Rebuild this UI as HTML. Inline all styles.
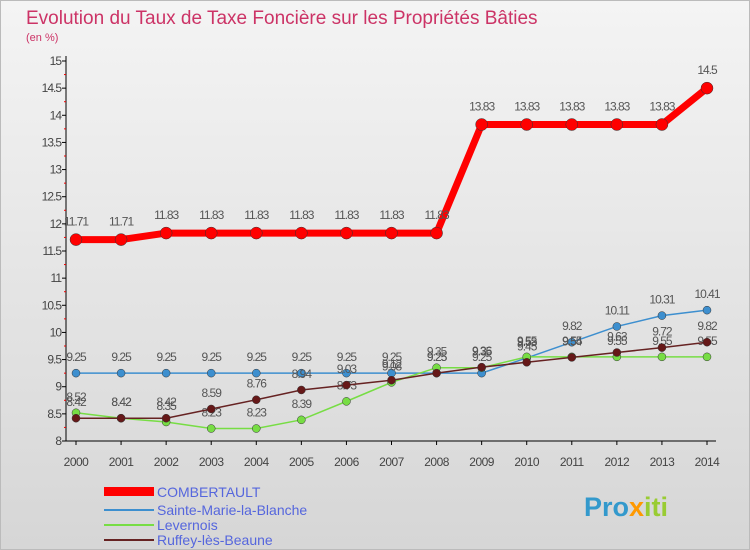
<!DOCTYPE html>
<html><head><meta charset="utf-8"><style>
body{margin:0;}
#c{width:750px;height:550px;position:relative;background:linear-gradient(#f4f4f4,#d6d6d6);font-family:"Liberation Sans",sans-serif;overflow:hidden;border:1px solid #bbb;box-sizing:border-box}
text{font-family:"Liberation Sans",sans-serif}
</style></head><body>
<div id="c">
<svg id="s" width="750" height="550">
<text x="25" y="23" font-size="19" fill="#cc3366">Evolution du Taux de Taxe Foncière sur les Propriétés Bâties</text>
<text x="25" y="40" font-size="11" fill="#cc3366">(en %)</text>
<g id="axes"></g><g id="series"></g>
<g>
<rect x="103" y="486" width="50" height="9" fill="#ff0000"/>
<text x="156" y="496" font-size="14" fill="#5566dd">COMBERTAULT</text>
<rect x="103" y="508" width="50" height="2" fill="#3d8fcf"/>
<text x="156" y="514" font-size="14" fill="#5566dd">Sainte-Marie-la-Blanche</text>
<rect x="103" y="523" width="50" height="2" fill="#77dd44"/>
<text x="156" y="529" font-size="14" fill="#5566dd">Levernois</text>
<rect x="103" y="538" width="50" height="2" fill="#662222"/>
<text x="156" y="544" font-size="14" fill="#5566dd">Ruffey-lès-Beaune</text>
</g>
<text x="583" y="515" font-size="27" font-weight="bold" fill="#3399cc">Pro<tspan fill="#ff9900">x</tspan><tspan fill="#99cc33">iti</tspan></text>
</svg></div>
<script>
const years=[2000,2001,2002,2003,2004,2005,2006,2007,2008,2009,2010,2011,2012,2013,2014];
const yTicks=[8,8.5,9,9.5,10,10.5,11,11.5,12,12.5,13,13.5,14,14.5,15];
const combertault=[11.71,11.71,11.83,11.83,11.83,11.83,11.83,11.83,11.83,13.83,13.83,13.83,13.83,13.83,14.5];
const sainteMarie=[9.25,9.25,9.25,9.25,9.25,9.25,9.25,9.25,9.25,9.25,9.53,9.82,10.11,10.31,10.41];
const levernois=[8.52,8.42,8.35,8.23,8.23,8.39,8.73,9.08,9.35,9.35,9.55,9.55,9.55,9.55,9.55];
const ruffey=[8.42,8.42,8.42,8.59,8.76,8.94,9.03,9.12,9.25,9.36,9.45,9.54,9.63,9.72,9.82];
const NS="http://www.w3.org/2000/svg";
const x=i=>75+i*(706-75)/(years.length-1);
const y=v=>440-(v-8)*(380/7);
function el(t,a,p){const e=document.createElementNS(NS,t);for(const k in a)e.setAttribute(k,a[k]);p.appendChild(e);return e;}
const ax=document.getElementById('axes');
const yl=el('line',{x1:65,y1:55,x2:65,y2:440,stroke:'#000'},ax);


const xl=el('line',{x1:65,y1:440,x2:715,y2:440,stroke:'#000'},ax);


yTicks.forEach((t,i)=>{
 el('line',{x1:61,x2:65,y1:y(t),y2:y(t),stroke:'#000'},ax);
 if(i<yTicks.length-1) el('line',{x1:63,x2:65,y1:y(t+0.25),y2:y(t+0.25),stroke:'#e00'},ax);
 const tx=el('text',{x:60,y:y(t)+4,'font-size':12,'text-anchor':'end',fill:'#444','letter-spacing':'-1'},ax);
 tx.textContent=String(t);
 
 
});
years.forEach((yr,i)=>{
 el('line',{x1:x(i),x2:x(i),y1:440,y2:444,stroke:'#000'},ax);
 const tx=el('text',{x:x(i),y:465,'font-size':12,'text-anchor':'middle',fill:'#444','letter-spacing':'-0.5'},ax);
 tx.textContent=yr;
 
 
});
const sg=document.getElementById('series');
function draw(vals,color,w,r,name,fill){
 const g=el('g',{},sg);
 
 
 const p=el('polyline',{points:vals.map((v,i)=>x(i)+','+y(v)).join(' '),fill:'none',stroke:color,'stroke-width':w},g);
 
 
 vals.forEach((v,i)=>{
  const c=el('circle',{cx:x(i),cy:y(v),r:r,fill:fill,stroke:'#333','stroke-width':0.5},g);
  
  
  const t=el('text',{x:x(i),y:y(v)-(r+8),'font-size':12,'text-anchor':'middle',fill:'#555','letter-spacing':'-1'},g);
  t.textContent=v;
  
  
 });
}
draw(sainteMarie,'#3d8fcf',1.5,4,'sainte-marie','#3d8fcf');
draw(levernois,'#77dd44',1.5,4,'levernois','#77dd44');
draw(ruffey,'#662222',1.5,4,'ruffey','#661818');
draw(combertault,'#ff0000',7,6,'combertault','#ff0000');
</script>
</body></html>
